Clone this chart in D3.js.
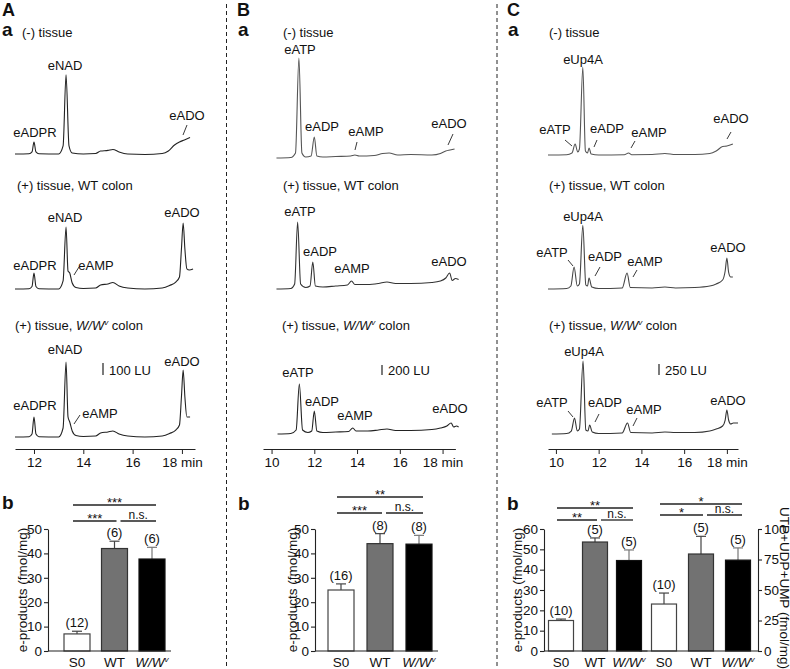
<!DOCTYPE html>
<html><head><meta charset="utf-8">
<script src="https://cdn.jsdelivr.net/npm/d3@7"></script>
<style>
body{margin:0;background:#fff}
svg{display:block}
text{font-family:"Liberation Sans",Arial,sans-serif;fill:#111}
</style>
</head><body>
<svg id="c" width="790" height="669"></svg>
<script>
// ================= DATA =================
// chromatogram time ticks (min)
const timeTicksA = [12, 14, 16, 18];
const timeTicksBC = [10, 12, 14, 16, 18];
// chromatograms: [retention time (min), fluorescence above baseline (LU)]
const traceA1 = [[11.23,0],[11.8,2],[11.92,17],[12.0,100],[12.08,17],[12.2,2],[13.0,0],[13.18,67],[13.3,660],[13.42,67],[13.55,8],[14.0,0],[14.5,4],[14.7,25],[15.0,30],[15.2,38],[15.45,17],[15.8,0],[16.5,-4],[17.2,4],[17.45,25],[17.7,75],[17.9,100],[18.1,117],[18.33,137]];
const traceA2 = [[11.23,0],[11.8,2.5],[11.92,21],[12.0,133],[12.08,21],[12.2,2.5],[13.0,0],[13.18,67],[13.3,517],[13.38,150],[13.45,133],[13.55,50],[13.7,12],[14.0,4],[14.5,8],[14.7,33],[15.0,42],[15.2,54],[15.45,25],[15.8,8],[16.5,0],[17.2,8],[17.5,29],[17.75,58],[17.9,100],[17.98,333],[18.05,550],[18.12,333],[18.2,167],[18.3,158],[18.45,167]];
const traceA3 = [[11.23,0],[11.8,2.5],[11.92,25],[12.0,167],[12.08,25],[12.2,2.5],[13.0,0],[13.18,75],[13.3,625],[13.38,167],[13.45,125],[13.55,50],[13.7,12],[14.0,4],[14.5,8],[14.7,33],[15.0,42],[15.2,50],[15.45,25],[15.8,8],[16.5,0],[17.2,8],[17.5,29],[17.75,58],[17.9,100],[17.98,333],[18.05,558],[18.12,333],[18.2,167],[18.33,167]];
const traceB1 = [[10.23,0],[10.9,10],[11.12,100],[11.28,2000],[11.42,100],[11.6,20],[11.85,40],[12.0,420],[12.12,40],[12.4,20],[13.0,30],[13.7,40],[13.9,60],[14.1,40],[14.8,50],[15.2,90],[15.5,100],[15.9,60],[16.5,70],[17.5,60],[17.9,90],[18.15,140],[18.35,160],[18.56,180]];
const traceB2 = [[10.23,0],[10.9,10],[11.08,100],[11.22,1340],[11.36,100],[11.6,30],[11.8,60],[11.93,540],[12.05,60],[12.4,40],[13.0,60],[13.55,80],[13.74,160],[13.9,90],[14.5,90],[15.0,110],[15.4,140],[15.8,110],[16.5,110],[17.5,130],[17.9,160],[18.15,220],[18.33,320],[18.45,170],[18.6,210],[18.75,190]];
const traceB3 = [[10.28,0],[10.9,10],[11.15,80],[11.3,1000],[11.45,80],[11.7,30],[11.88,60],[12.0,460],[12.12,60],[12.4,30],[13.0,40],[13.6,50],[13.8,120],[13.95,60],[14.5,60],[15.0,80],[15.4,100],[15.8,70],[16.5,70],[17.5,90],[17.9,120],[18.2,160],[18.4,220],[18.52,140],[18.65,160],[18.75,140]];
const traceC1 = [[9.63,0],[10.5,7],[10.75,45],[10.9,250],[11.02,68],[11.1,136],[11.26,2000],[11.38,91],[11.48,45],[11.55,159],[11.65,23],[12.0,0],[13.2,7],[13.4,45],[13.55,7],[14.5,11],[15.1,34],[15.6,11],[16.5,11],[17.2,34],[17.5,91],[17.8,193],[18.0,204],[18.28,250]];
const traceC2 = [[9.63,0],[10.5,11],[10.7,68],[10.85,500],[11.0,68],[11.1,114],[11.26,1450],[11.4,91],[11.48,68],[11.55,250],[11.68,45],[12.0,11],[13.1,23],[13.33,363],[13.48,34],[14.5,23],[15.1,45],[15.6,23],[16.5,34],[17.2,68],[17.5,114],[17.8,204],[17.92,409],[18.0,704],[18.08,386],[18.18,272],[18.28,272]];
const traceC3 = [[9.81,0],[10.5,11],[10.72,68],[10.87,363],[11.0,68],[11.1,114],[11.27,1660],[11.4,91],[11.5,68],[11.58,204],[11.7,45],[12.0,11],[13.1,23],[13.35,250],[13.5,34],[14.5,23],[15.1,45],[15.6,34],[16.5,34],[17.2,68],[17.5,114],[17.8,182],[17.92,318],[18.0,545],[18.08,318],[18.18,227],[18.3,250],[18.52,250]];
const scaleBarLU = [100, 200, 250];

// bar charts
const barCategories = ["S0", "WT", "W/Wv"];
const barValuesA = [7, 42, 37.7];
const barErrorsA = [1.1, 3, 4.8];
const barNA = ["(12)", "(6)", "(6)"];
const barValuesB = [25, 44, 43.8];
const barErrorsB = [2.5, 4.1, 3.6];
const barNB = ["(16)", "(8)", "(8)"];
const barValuesCL = [15, 53.6, 44.5];
const barErrorsCL = [0.7, 2, 5.2];
const barNCL = ["(10)", "(5)", "(5)"];
const barValuesCR = [38.5, 79.5, 74.5];
const barErrorsCR = [9, 14.5, 10];
const barNCR = ["(10)", "(5)", "(5)"];
const yTicks50 = [0, 10, 20, 30, 40, 50];
const yTicks60 = [0, 10, 20, 30, 40, 50, 60];
const yTicks100 = [0, 25, 50, 75, 100];
// significance: [S0 vs W/Wv, S0 vs WT, WT vs W/Wv]
const sigA = ["***", "***", "n.s."];
const sigB = ["**", "***", "n.s."];
const sigCL = ["**", "**", "n.s."];
const sigCR = ["*", "*", "n.s."];

// ================= DRAWING =================
const svg = d3.select("#c");
const INK = "#111";

function wwv(sel, size) {
  sel.append("tspan").attr("font-style", "italic").text("W/W");
  sel.append("tspan").attr("font-style", "italic").attr("font-size", size * 0.6).attr("dy", -5).text("v");
  sel.append("tspan").attr("dy", 5).text("");
}
function txt(x, y, s, opt = {}) {
  const t = svg.append("text").attr("x", x).attr("y", y)
    .attr("font-size", opt.size || 13)
    .attr("text-anchor", opt.anchor || "start");
  if (opt.bold) t.attr("font-weight", "bold");
  if (s === "W/Wv") { wwv(t, opt.size || 13); }
  else t.text(s);
  return t;
}
function condLabel(x, y, which) {
  const t = svg.append("text").attr("x", x).attr("y", y).attr("font-size", 13);
  if (which === 0) t.text("(-) tissue");
  else if (which === 1) t.text("(+) tissue, WT colon");
  else {
    t.append("tspan").text("(+) tissue, ");
    t.append("tspan").attr("font-style", "italic").text("W/W");
    t.append("tspan").attr("font-style", "italic").attr("font-size", 8).attr("dy", -5).text("v");
    t.append("tspan").attr("dy", 5).text(" colon");
  }
}
function leader(l) {
  svg.append("line").attr("x1", l[0]).attr("y1", l[1]).attr("x2", l[2]).attr("y2", l[3])
    .attr("stroke", "#222").attr("stroke-width", 0.9);
}

// separators
[226.5, 497].forEach(x => svg.append("line").attr("x1", x).attr("x2", x).attr("y1", 4).attr("y2", 669)
  .attr("stroke", "#222").attr("stroke-width", 1).attr("stroke-dasharray", "4,3"));

// panel letters
[["A", 2, 16], ["B", 237, 16], ["C", 507, 16]].forEach(d => txt(d[1], d[2], d[0], {size: 18, bold: true}));
[["a", 2, 36], ["a", 238, 36], ["a", 508, 36]].forEach(d => txt(d[1], d[2], d[0], {size: 19, bold: true}));
[["b", 2, 509], ["b", 238, 510], ["b", 507, 510]].forEach(d => txt(d[1], d[2], d[0], {size: 19, bold: true}));

const chromPanels = [
  {traces: [traceA1, traceA2, traceA3], domain: [11.23, 18.53], range: [15, 195], ticks: timeTicksA,
   luPx: 12, luRef: 100, baselines: [154, 289, 437], colors: ["#222", "#222", "#222"],
   bar: scaleBarLU[0], barX: 103, barY: 375, condX: [22, 17, 15],
   labels: [
     [["eADPR", 35, 137], ["eNAD", 65, 70], ["eADO", 187, 120, [187, 125, 183, 135]]],
     [["eADPR", 35, 270], ["eNAD", 65, 222], ["eAMP", 96, 270, [79, 267, 74, 275]], ["eADO", 182, 217]],
     [["eADPR", 35, 410], ["eNAD", 65, 354], ["eAMP", 100, 418, [80, 415, 74, 424]], ["eADO", 182, 366]]
   ]},
  {traces: [traceB1, traceB2, traceB3], domain: [9.6, 18.6], range: [263, 455.4], ticks: timeTicksBC,
   luPx: 10, luRef: 200, baselines: [158, 289, 434], colors: ["#555", "#333", "#222"],
   bar: scaleBarLU[1], barX: 382, barY: 375, condX: [283, 283, 282],
   labels: [
     [["eATP", 300, 54], ["eADP", 322, 131], ["eAMP", 366, 136, [357, 142, 355, 150]], ["eADO", 449, 128, [453, 134, 448, 145]]],
     [["eATP", 300, 216], ["eADP", 320, 256], ["eAMP", 352, 273], ["eADO", 449, 266]],
     [["eATP", 298, 377], ["eADP", 322, 406], ["eAMP", 355, 420], ["eADO", 450, 413]]
   ]},
  {traces: [traceC1, traceC2, traceC3], domain: [9.63, 18.52], range: [548, 738], ticks: timeTicksBC,
   luPx: 11, luRef: 250, baselines: [155, 289, 434], colors: ["#555", "#444", "#333"],
   bar: scaleBarLU[2], barX: 659, barY: 375, condX: [549, 549, 549],
   labels: [
     [["eUp4A", 583, 64], ["eATP", 555, 134, [565, 140, 572, 146]], ["eADP", 607, 133, [597, 140, 594, 147]], ["eAMP", 649, 137, [635, 141, 631, 148]], ["eADO", 731, 123, [731, 132, 727, 139]]],
     [["eUp4A", 583, 221], ["eATP", 552, 257, [568, 260, 573, 266]], ["eADP", 605, 261, [600, 267, 595, 276]], ["eAMP", 645, 266, [637, 270, 633, 277]], ["eADO", 728, 252]],
     [["eUp4A", 584, 356], ["eATP", 552, 407, [568, 411, 573, 417]], ["eADP", 605, 407, [599, 414, 595, 422]], ["eAMP", 644, 414, [637, 418, 633, 426]], ["eADO", 728, 405]]
   ]}
];
const condY = [37, 190, 330];

chromPanels.forEach(p => {
  const x = d3.scaleLinear().domain(p.domain).range(p.range);
  const h = d3.scaleLinear().domain([0, p.luRef]).range([0, p.luPx]);
  p.traces.forEach((tr, i) => {
    const base = p.baselines[i];
    const line = d3.line().x(d => x(d[0])).y(d => base - h(d[1])).curve(d3.curveMonotoneX);
    svg.append("path").datum(tr).attr("d", line).attr("fill", "none")
      .attr("stroke", p.colors[i]).attr("stroke-width", 1.1).attr("stroke-linejoin", "round");
    condLabel(p.condX[i], condY[i], i);
    p.labels[i].forEach(l => {
      txt(l[1], l[2], l[0], {anchor: "middle"});
      if (l[3]) leader(l[3]);
    });
  });
  // scale bar
  svg.append("line").attr("x1", p.barX).attr("x2", p.barX).attr("y1", p.barY).attr("y2", p.barY - h(p.bar))
    .attr("stroke", "#222").attr("stroke-width", 1.2);
  txt(p.barX + 6, p.barY, p.bar + " LU", {size: 13});
  // time axis
  const ax = d3.axisBottom(x).tickValues(p.ticks).tickSize(5).tickSizeOuter(0)
    .tickFormat(d => d === 18 ? "18 min" : d);
  const g = svg.append("g").attr("transform", "translate(0,449)").call(ax);
  g.selectAll("path,line").attr("stroke", "#222");
  g.selectAll("text").attr("font-size", 13.5).attr("font-family", '"Liberation Sans",Arial,sans-serif').attr("fill", INK);
});

// ============ BAR CHARTS ============
const barCharts = [
  {vals: barValuesA, errs: barErrorsA, ns: barNA, sig: sigA, ticks: yTicks50, yMax: 50, side: "left",
   axisX: 48, centers: [77, 152], bw: 26, sigY: [505, 521], title: {x: 22, y: 590, text: "e-products (fmol/mg)", rot: -90}},
  {vals: barValuesB, errs: barErrorsB, ns: barNB, sig: sigB, ticks: yTicks50, yMax: 50, side: "left",
   axisX: 315, centers: [341, 419], bw: 26, sigY: [497, 513], title: {x: 292, y: 590, text: "e-products (fmol/mg)", rot: -90}},
  {vals: barValuesCL, errs: barErrorsCL, ns: barNCL, sig: sigCL, ticks: yTicks60, yMax: 60, side: "left",
   axisX: 544, centers: [561, 629], bw: 25, sigY: [508, 520], title: {x: 517, y: 590, text: "e-products (fmol/mg)", rot: -90}},
  {vals: barValuesCR, errs: barErrorsCR, ns: barNCR, sig: sigCR, ticks: yTicks100, yMax: 100, side: "right",
   axisX: 758, centers: [664, 738], bw: 25, sigY: [504, 515], title: {x: 784, y: 588, text: "UTP+UDP+UMP (fmol/mg)", rot: 90}}
];
const fills = ["#ffffff", "#727272", "#000000"];
const strokes = ["#444", "#333", "#111"];
const errCol = ["#444", "#444", "#777"];

barCharts.forEach(c => {
  const y = d3.scaleLinear().domain([0, c.yMax]).range([651, 529]);
  const x = d3.scalePoint().domain(barCategories).range(c.centers);
  // bars
  barCategories.forEach((cat, i) => {
    const cx = x(cat), v = c.vals[i], e = c.errs[i];
    // error bar
    svg.append("line").attr("x1", cx).attr("x2", cx).attr("y1", y(v)).attr("y2", y(v + e))
      .attr("stroke", errCol[i]).attr("stroke-width", 1.2);
    svg.append("line").attr("x1", cx - 5).attr("x2", cx + 5).attr("y1", y(v + e)).attr("y2", y(v + e))
      .attr("stroke", errCol[i]).attr("stroke-width", 1.2);
    svg.append("rect").attr("x", cx - c.bw / 2).attr("y", y(v)).attr("width", c.bw).attr("height", y(0) - y(v))
      .attr("fill", fills[i]).attr("stroke", strokes[i]).attr("stroke-width", 1.2);
    txt(cx, y(v + e) - 4, c.ns[i], {anchor: "middle", size: 13});
    txt(cx, 667, cat, {anchor: "middle", size: 13.5});
  });
  // baseline
  const x0 = c.side === "left" ? c.axisX : x(barCategories[0]) - c.bw / 2 - 12;
  const x1 = c.side === "left" ? x(barCategories[2]) + c.bw / 2 + 6 : c.axisX;
  svg.append("line").attr("x1", x0).attr("x2", x1).attr("y1", y(0)).attr("y2", y(0)).attr("stroke", "#222").attr("stroke-width", 1.1);
  // y axis
  const ax = (c.side === "left" ? d3.axisLeft(y) : d3.axisRight(y)).tickValues(c.ticks).tickSize(4).tickSizeOuter(0).tickPadding(2);
  const g = svg.append("g").attr("transform", `translate(${c.axisX},0)`).call(ax);
  g.selectAll("path,line").attr("stroke", "#222").attr("stroke-width", 1.1);
  g.selectAll("text").attr("font-size", 13.5).attr("font-family", '"Liberation Sans",Arial,sans-serif').attr("fill", INK);
  // axis title
  svg.append("text").attr("transform", `translate(${c.title.x},${c.title.y}) rotate(${c.title.rot})`)
    .attr("text-anchor", "middle").attr("dominant-baseline", "central").attr("font-size", 13.5).text(c.title.text);
  // significance
  const xs = x(barCategories[0]), xw = x(barCategories[1]), xv = x(barCategories[2]);
  const sigLine = (a, b, yy, s) => {
    svg.append("line").attr("x1", a).attr("x2", b).attr("y1", yy).attr("y2", yy).attr("stroke", "#222").attr("stroke-width", 1.3);
    const star = s !== "n.s.";
    txt((a + b) / 2, star ? yy + 2 : yy - 2.5, s, {anchor: "middle", size: star ? 13 : 12});
  };
  sigLine(xs - 4, xv + 4, c.sigY[0], c.sig[0]);
  sigLine(xs - 4, xw + 2, c.sigY[1], c.sig[1]);
  sigLine(xw + 6, xv + 4, c.sigY[1], c.sig[2]);
});
</script>
</body></html>
